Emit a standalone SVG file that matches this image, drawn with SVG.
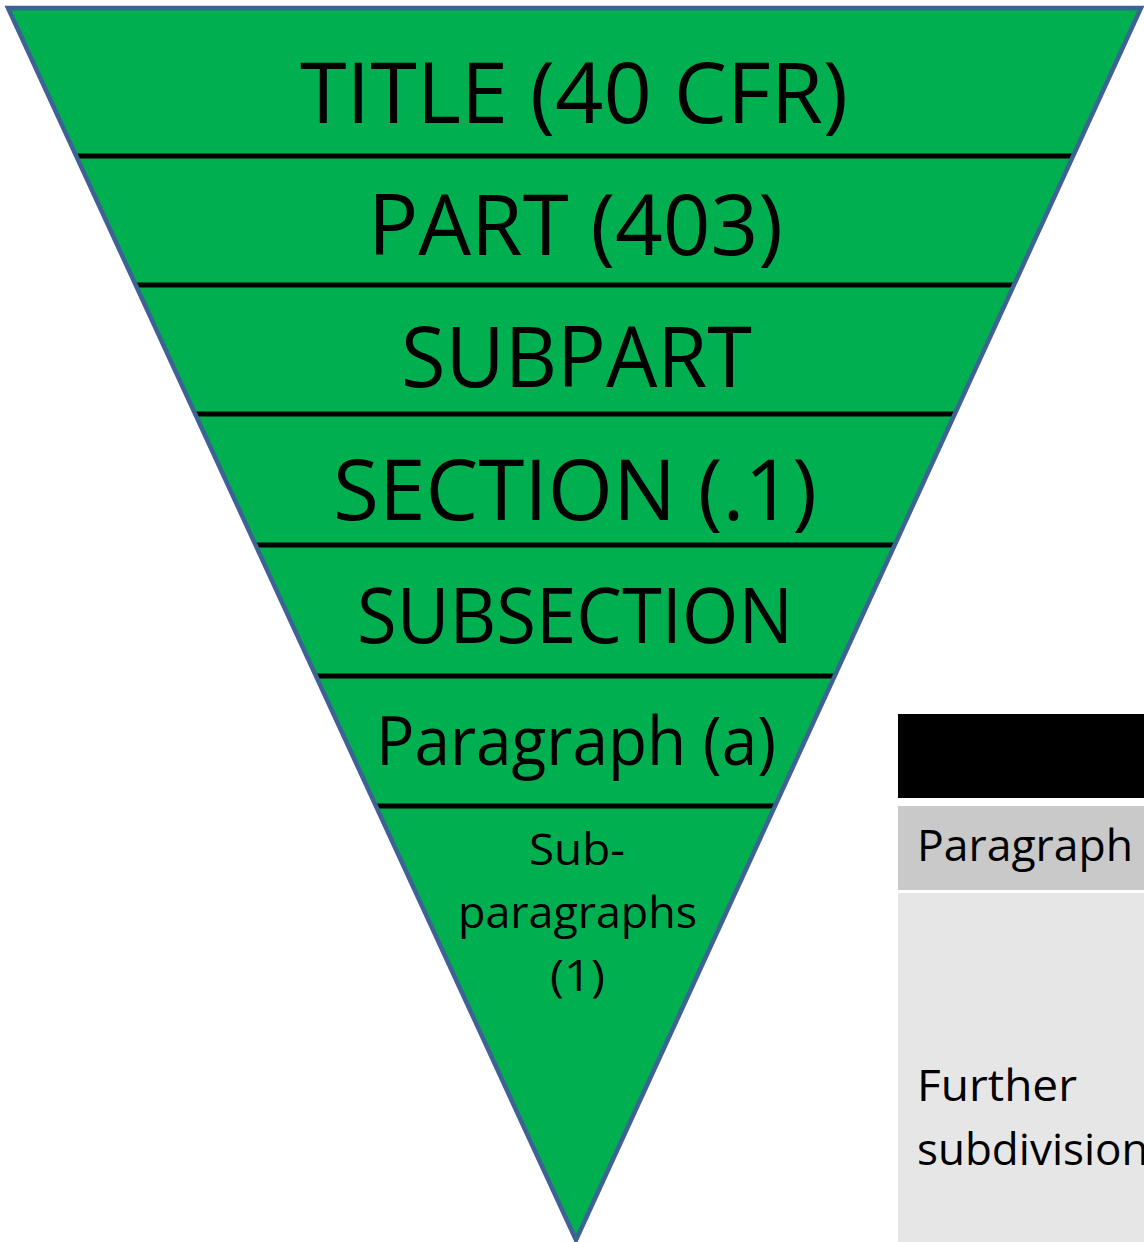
<svg xmlns="http://www.w3.org/2000/svg" width="1144" height="1242" viewBox="0 0 1144 1242">
  <style>
    .lbl { font-family: "Open Sans", "Noto Sans", "Liberation Sans", sans-serif; fill: #000000; text-anchor: middle; }
    .side { font-family: "Open Sans", "Noto Sans", "Liberation Sans", sans-serif; fill: #000000; font-size: 44px; }
    .div { stroke: #000000; stroke-width: 5; fill: none; }
  </style>
  <rect x="0" y="0" width="1144" height="1242" fill="#FFFFFF"/>
  <g id="pyramid">
    <polygon points="8,8 1141,8 576,1240" fill="#00B050"/>
  </g>
  <g id="dividers">
    <line class="div" x1="76" y1="156" x2="1074" y2="156"/>
    <line class="div" x1="135" y1="285" x2="1014" y2="285"/>
    <line class="div" x1="195" y1="414" x2="955" y2="414"/>
    <line class="div" x1="255" y1="545" x2="895" y2="545"/>
    <line class="div" x1="316" y1="676" x2="835" y2="676"/>
    <line class="div" x1="376" y1="806" x2="775" y2="806"/>
  </g>
  <polygon points="8,8 1141,8 576,1240" fill="none" stroke="#3F6294" stroke-width="4.5" stroke-linejoin="miter"/>
  <g id="level-title"><text class="lbl" x="574" y="123" font-size="85" textLength="548" lengthAdjust="spacingAndGlyphs">TITLE (40 CFR)</text></g>
  <g id="level-part"><text class="lbl" x="575.5" y="255" font-size="85" textLength="415" lengthAdjust="spacingAndGlyphs">PART (403)</text></g>
  <g id="level-subpart"><text class="lbl" x="576.5" y="387" font-size="85" textLength="351" lengthAdjust="spacingAndGlyphs">SUBPART</text></g>
  <g id="level-section"><text class="lbl" x="575" y="520" font-size="85" textLength="484" lengthAdjust="spacingAndGlyphs">SECTION (.1)</text></g>
  <g id="level-subsection"><text class="lbl" x="575" y="643" font-size="77" textLength="436" lengthAdjust="spacingAndGlyphs">SUBSECTION</text></g>
  <g id="level-paragraph"><text class="lbl" x="576" y="765" font-size="67" textLength="400" lengthAdjust="spacingAndGlyphs">Paragraph (a)</text></g>
  <g id="level-subparagraphs">
    <text class="lbl" x="577" y="865" font-size="43" textLength="96" lengthAdjust="spacingAndGlyphs">Sub-</text>
    <text class="lbl" x="577.5" y="928" font-size="43" textLength="239" lengthAdjust="spacingAndGlyphs">paragraphs</text>
    <text class="lbl" x="577.5" y="991" font-size="43" textLength="55" lengthAdjust="spacingAndGlyphs">(1)</text>
  </g>
  <g id="side-header"><rect x="898" y="714" width="246" height="84" fill="#000000"/></g>
  <g id="side-paragraph">
    <rect x="898" y="806" width="246" height="84" fill="#C9C9C9"/>
    <text class="side" x="917" y="861" textLength="216" lengthAdjust="spacingAndGlyphs">Paragraph</text>
  </g>
  <g id="side-further">
    <rect x="898" y="893" width="246" height="349" fill="#E7E6E6"/>
    <text class="side" x="917" y="1101" textLength="160" lengthAdjust="spacingAndGlyphs">Further</text>
    <text class="side" x="917" y="1165">subdivision</text>
  </g>
</svg>
